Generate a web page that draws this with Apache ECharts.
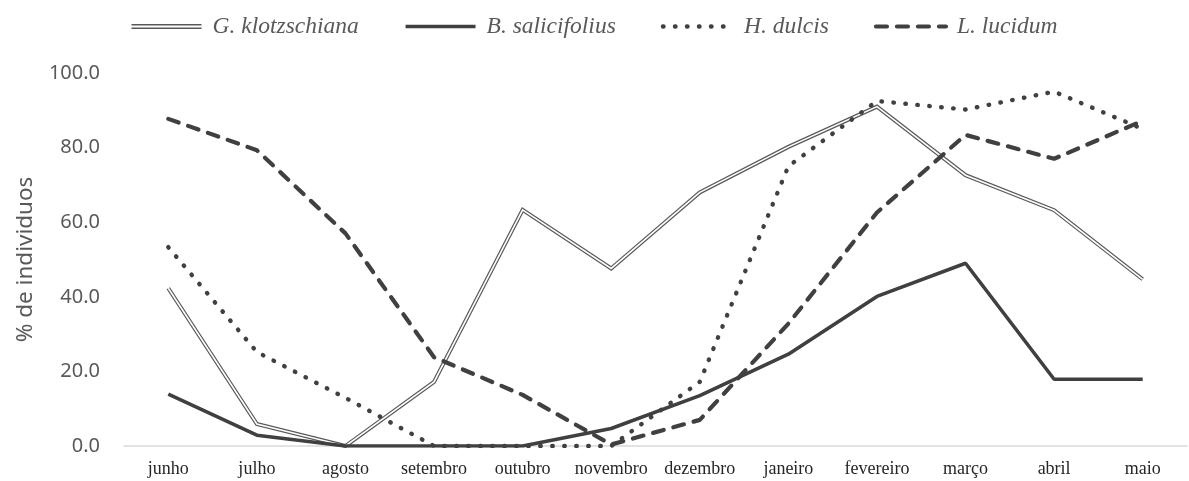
<!DOCTYPE html>
<html>
<head>
<meta charset="utf-8">
<script src="https://cdn.jsdelivr.net/npm/echarts@6/dist/echarts.min.js"></script>
<style>
  html, body { margin: 0; padding: 0; background: #ffffff; }
  #chart { width: 1189px; height: 481px; }
</style>
</head>
<body>
<div id="chart"></div>
<script>
// Months of the observation year
const months = ['junho', 'julho', 'agosto', 'setembro', 'outubro', 'novembro',
  'dezembro', 'janeiro', 'fevereiro', 'março', 'abril', 'maio'];

// Percentage of individuals per species and month
const klotzschiana = [42.3, 5.9, 0, 17.2, 63.3, 47.6, 68.0, 80.2, 91.0, 72.6, 63.2, 44.7];
const salicifolius = [13.9, 2.9, 0, 0, 0, 4.7, 13.5, 24.6, 40.1, 49.0, 17.9, 17.9];
const dulcis = [53.3, 25.2, 12.9, 0, 0, 0, 17.2, 75.0, 92.5, 90.2, 95.0, 85.0];
const lucidum = [87.7, 79.3, 57.0, 23.8, 13.7, 0.4, 7.0, 32.8, 62.6, 83.4, 77.0, 87.2];

const yTicks = [0, 20, 40, 60, 80, 100];

const ink = '#404040';
const outline = '#595959';

const chart = echarts.init(document.getElementById('chart'), null, { renderer: 'canvas' });

chart.setOption({
  animation: false,
  backgroundColor: '#ffffff',
  legend: {
    top: 10,
    left: 'center',
    itemGap: 45,
    itemWidth: 70,
    itemHeight: 14,
    // line-only keys: hide the marker that line series add to the key
    itemStyle: { opacity: 0 },
    lineStyle: { width: 'inherit' },
    textStyle: {
      fontFamily: '"Liberation Serif", "DejaVu Serif", serif',
      fontStyle: 'italic',
      fontSize: 23.5,
      color: outline,
      padding: [0, 0, 0, 6]
    },
    data: [
      {
        name: 'G. klotzschiana',
        // hollow bar: two thin rules with a white core
        icon: 'path://M0,0L70,0L70,5L0,5Z M0,1.4L0,3.6L70,3.6L70,1.4Z',
        itemStyle: { color: outline, opacity: 1 }
      },
      { name: 'B. salicifolius' },
      { name: 'H. dulcis' },
      { name: 'L. lucidum' }
    ]
  },
  grid: { left: 124, right: 2, top: 73, bottom: 35, containLabel: false },
  xAxis: {
    type: 'category',
    data: months,
    boundaryGap: true,
    axisLine: { lineStyle: { color: '#d9d9d9', width: 1.5 } },
    axisTick: { show: false },
    axisLabel: {
      margin: 14,
      interval: 0,
      fontFamily: '"Liberation Serif", "DejaVu Serif", serif',
      fontSize: 18,
      color: '#262626'
    },
    splitLine: { show: false }
  },
  yAxis: {
    type: 'value',
    min: yTicks[0],
    max: yTicks[yTicks.length - 1],
    interval: 20,
    name: '% de individuos',
    nameLocation: 'middle',
    nameGap: 87,
    nameRotate: 90,
    nameTextStyle: {
      fontFamily: '"Noto Sans", "Open Sans", sans-serif',
      fontSize: 22.5,
      color: outline
    },
    axisLine: { show: false },
    axisTick: { show: false },
    splitLine: { show: false },
    axisLabel: {
      margin: 24,
      fontFamily: '"Noto Sans", "Open Sans", sans-serif',
      fontSize: 20,
      color: outline,
      formatter: v => v.toFixed(1)
    }
  },
  series: [
    {
      name: 'G. klotzschiana',
      type: 'line',
      data: klotzschiana,
      symbol: 'none',
      z: 3,
      itemStyle: { color: outline },
      lineStyle: { color: outline, width: 4, join: 'miter' }
    },
    {
      // white core of the hollow line
      id: 'klotz-core',
      name: 'G. klotzschiana',
      type: 'line',
      data: klotzschiana,
      symbol: 'none',
      z: 4,
      silent: true,
      itemStyle: { color: outline },
      lineStyle: { color: '#ffffff', width: 1.6, join: 'miter' }
    },
    {
      name: 'B. salicifolius',
      type: 'line',
      data: salicifolius,
      symbol: 'none',
      z: 5,
      itemStyle: { color: ink },
      lineStyle: { color: ink, width: 3.6 }
    },
    {
      name: 'H. dulcis',
      type: 'line',
      data: dulcis,
      symbol: 'none',
      z: 6,
      itemStyle: { color: ink },
      lineStyle: { color: ink, width: 4.4, type: [0.5, 11.5], cap: 'round' }
    },
    {
      name: 'L. lucidum',
      type: 'line',
      data: lucidum,
      symbol: 'none',
      z: 7,
      itemStyle: { color: ink },
      lineStyle: { color: ink, width: 4.2, type: [11, 10], cap: 'round' }
    }
  ]
});
</script>
</body>
</html>
